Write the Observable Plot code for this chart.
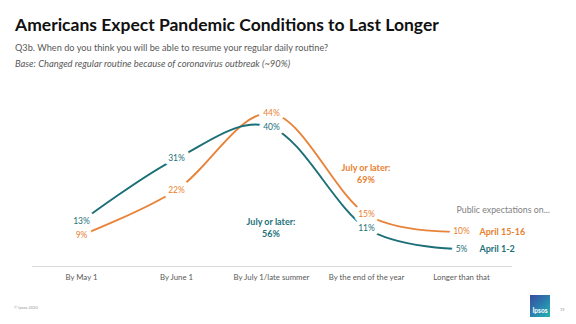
<!DOCTYPE html>
<html>
<head>
<meta charset="utf-8">
<script src="https://cdn.jsdelivr.net/npm/d3@7"></script>
<script src="https://cdn.jsdelivr.net/npm/@observablehq/plot@0.6"></script>
<style>
  html, body { margin: 0; padding: 0; background: #fff; }
  body { width: 576px; height: 324px; position: relative; overflow: hidden; font-family: Lato, "Open Sans", sans-serif; }
  #title { position: absolute; left: 15px; top: 14px; font-size: 17.5px; font-weight: 700; color: #111; white-space: nowrap; }
  #sub { position: absolute; left: 15px; top: 42px; font-size: 9.2px; color: #595959; white-space: nowrap; }
  #base { position: absolute; left: 15px; top: 58px; font-size: 9.4px; font-style: italic; color: #595959; white-space: nowrap; }
  #chart { position: absolute; left: 0; top: 80px; }
  #copy { position: absolute; left: 14px; top: 305px; font-size: 4px; color: #999; }
  #page { position: absolute; left: 560px; top: 307px; font-size: 4px; color: #999; }
  #logo { position: absolute; left: 530px; top: 295px; width: 20px; height: 22px;
          background: linear-gradient(135deg, #3a4aa0 0%, #2a7fae 50%, #24b5b0 100%);
          color: #fff; font-size: 6.5px; font-weight: 700; text-align: center; line-height: 7px; }
  #logo span { position: absolute; left: 0; right: 0; bottom: 3px; }
</style>
</head>
<body>
<div id="title">Americans Expect Pandemic Conditions to Last Longer</div>
<div id="sub">Q3b. When do you think you will be able to resume your regular daily routine?</div>
<div id="base">Base: Changed regular routine because of coronavirus outbreak (~90%)</div>
<div id="chart"></div>
<div id="copy">© Ipsos 2020</div>
<div id="logo"><span>Ipsos</span></div>
<div id="page">19</div>
<script>
const categories = ["By May 1", "By June 1", "By July 1/late summer", "By the end of the year", "Longer than that"];
const seriesNames = ["April 15-16", "April 1-2"];
const april1516 = [9, 22, 44, 15, 10];
const april12 = [13, 31, 40, 11, 5];
const seriesColors = ["#e8843a", "#1b6f77"];
const labelColors = ["#e97f30", "#1d717a"];
const legendTitle = "Public expectations on...";
const annotationText = "July or later:";

const seriesValues = [april1516, april12];
const rows = [];
seriesNames.forEach((s, i) => {
  categories.forEach((c, j) => rows.push({series: s, cat: c, value: seriesValues[i][j]}));
});
// "July or later" = sum of last three categories
const annotations = seriesNames.map((s, i) => ({
  series: s,
  total: d3.sum(seriesValues[i].slice(2))
}));
annotations[0].cat = categories[3]; annotations[0].y = 26.7; annotations[0].dx = 23;
annotations[1].cat = categories[2]; annotations[1].y = 11.2; annotations[1].dx = 25;

const lastCat = categories[categories.length - 1];
const lastPoints = seriesNames.map((s, i) => ({series: s, value: seriesValues[i][seriesValues[i].length - 1]}));

const color = {domain: seriesNames, range: seriesColors};
const textColor = d => labelColors[seriesNames.indexOf(d.series)];

const chart = Plot.plot({
  width: 576,
  height: 244,
  marginLeft: 32,
  marginRight: 64,
  marginTop: 12,
  marginBottom: 58,
  style: {fontFamily: "Lato, 'Open Sans', sans-serif", background: "transparent"},
  x: {type: "point", domain: categories, range: [32, 510], padding: 0.5},
  y: {domain: [0, 50], range: [186, 12], axis: null},
  color: color,
  marks: [
    Plot.ruleY([0], {stroke: "#d9d9d9", strokeWidth: 1}),
    Plot.axisX({tickSize: 0, tickPadding: 8, fontSize: 7.8, color: "#595959", label: null}),
    Plot.line(rows, {x: "cat", y: "value", z: "series", stroke: "series", curve: "cardinal", strokeWidth: 1.9}),
    Plot.text(rows, {x: "cat", y: "value", text: d => d.value + "%", fill: textColor,
      stroke: "white", strokeWidth: 9, paintOrder: "stroke", fontSize: 8.5}),
    Plot.text(lastPoints, {x: () => lastCat, y: "value", text: "series", fill: textColor,
      textAnchor: "start", dx: 18, fontSize: 9, fontWeight: "bold"}),
    Plot.text([legendTitle], {x: () => lastCat, y: () => lastPoints[0].value, text: d => d,
      textAnchor: "start", dx: -5, dy: -22, fontSize: 8.8, fill: "#7f7f7f"}),
    Plot.text(annotations, {x: "cat", y: "y", dx: "dx", text: d => annotationText + "\n" + d.total + "%",
      fill: textColor, fontSize: 9, fontWeight: "bold", lineHeight: 1.35, textAnchor: "middle"})
  ]
});
document.getElementById("chart").appendChild(chart);
</script>
</body>
</html>
